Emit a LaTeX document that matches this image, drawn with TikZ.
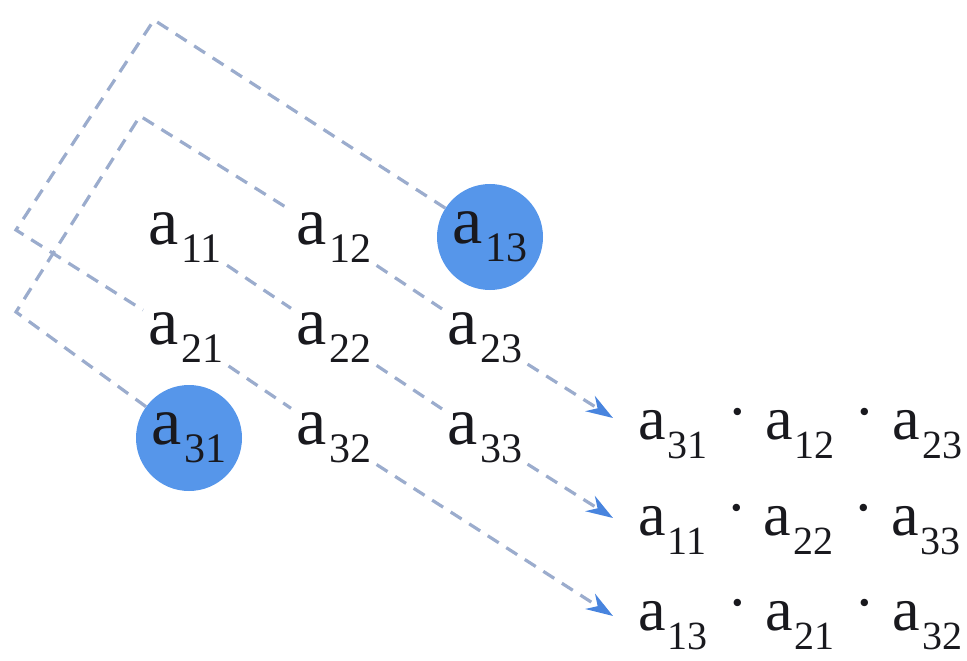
\documentclass[tikz,border=0pt]{standalone}
\usepackage{fontspec}
\setmainfont{Liberation Serif}
\usetikzlibrary{arrows.meta}
\definecolor{dotblue}{RGB}{86,150,234}
\definecolor{dashc}{RGB}{155,172,205}
\definecolor{arrowc}{RGB}{72,132,222}
\definecolor{inkc}{RGB}{25,25,30}
\newcommand\mEnt[1]{{\fontsize{68bp}{70bp}\selectfont a\kern3bp\raisebox{-18bp}{\fontsize{42bp}{44bp}\selectfont #1}}}
\newcommand\mEntP[1]{{\fontsize{62bp}{64bp}\selectfont a\kern2bp\raisebox{-19bp}{\fontsize{40bp}{42bp}\selectfont #1}}}
\newcommand\mDot{{\fontsize{62bp}{64bp}\selectfont\hspace{20bp}\raisebox{7bp}{\textperiodcentered}\hspace{17bp}}}
\tikzset{
  entry/.style={inner sep=5bp, anchor=base west, text=inkc},
  hl/.style={circle, fill=dotblue, minimum size=106bp, inner sep=0pt, text=inkc},
  prod/.style={inner sep=0pt, anchor=base west, text=inkc},
  dline/.style={draw=dashc, line width=3.2bp, dash pattern=on 13bp off 9bp},
  arr/.style={-{Stealth[length=27bp,width=18bp,color=arrowc]}}
}
\begin{document}
\begin{tikzpicture}[x=1bp,y=-1bp]
\useasboundingbox (0,0) rectangle (967,661);
% matrix entries
\node[hl] (a13) at (490,237) {\mEnt{13}};
\node[hl] (a31) at (189,438) {\mEnt{31}};
\node[entry] (a11) at (143,244) {\mEnt{11}};
\node[entry] (a12) at (291,244) {\mEnt{12}};
\node[entry] (a21) at (143,344) {\mEnt{21}};
\node[entry] (a22) at (291,344) {\mEnt{22}};
\node[entry] (a23) at (442,344) {\mEnt{23}};
\node[entry] (a32) at (291,444) {\mEnt{32}};
\node[entry] (a33) at (442,444) {\mEnt{33}};
% products
\node[prod] (p1) at (638,439) {\mEntP{31}\mDot\mEntP{12}\mDot\mEntP{23}};
\node[prod] (p2) at (638,535) {\mEntP{11}\mDot\mEntP{22}\mDot\mEntP{33}};
\node[prod] (p3) at (638,630) {\mEntP{13}\mDot\mEntP{21}\mDot\mEntP{32}};
% corner and arrow-end coordinates
\coordinate (L1) at (16,312);
\coordinate (T1) at (140,116);
\coordinate (T2) at (154,20);
\coordinate (L2) at (16,230);
\coordinate (e1) at (613,418);
\coordinate (e2) at (613,518);
\coordinate (e3) at (613,616);
% dashed connectors
\draw[dline,arr] (a31) -- (L1) -- (T1) -- (a12) -- (a23) -- (e1);
\draw[dline,arr] (a11) -- (a22) -- (a33) -- (e2);
\draw[dline,arr] (a13) -- (T2) -- (L2) -- (a21) -- (a32) -- (e3);
\end{tikzpicture}
\end{document}
